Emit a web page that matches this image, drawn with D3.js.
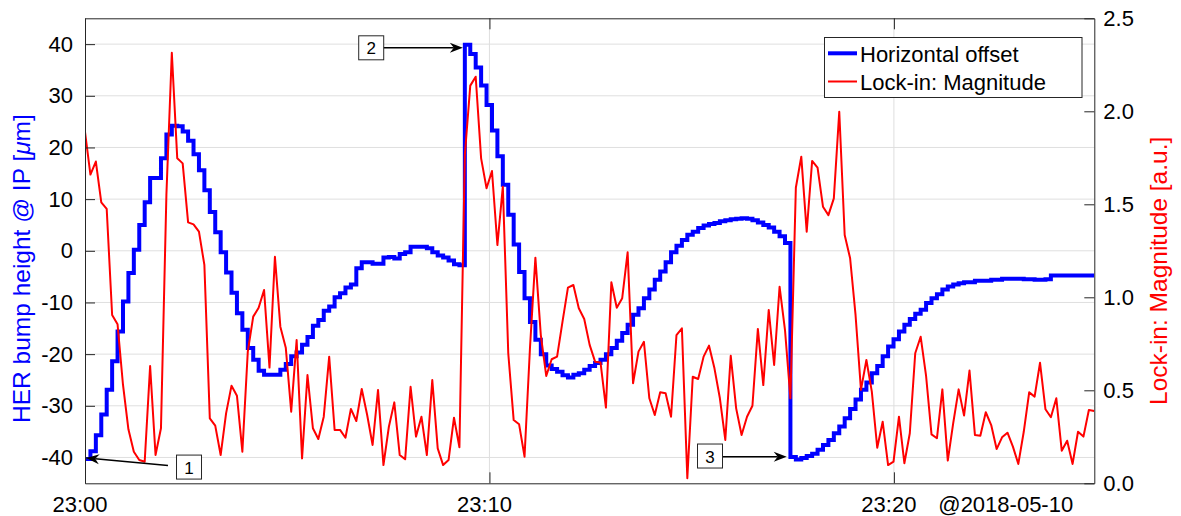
<!DOCTYPE html>
<html>
<head>
<meta charset="utf-8">
<script src="https://cdn.jsdelivr.net/npm/d3@7"></script>
<style>
  body { margin: 0; background: #fff; }
  svg { display: block; font-family: "Liberation Sans", Arial, Helvetica, sans-serif; }
</style>
</head>
<body>
<svg id="chart" width="1181" height="516"></svg>
<script>
// ---- Data -------------------------------------------------------------
// Samples start at 23:00:00 on 2018-05-10, one sample every ~8 s.
const startTime = new Date(2018, 4, 10, 23, 0, 0);
const sampleStepSec = 8.05;

// HER horizontal bump offset at the IP [um] (drawn as stairs, left axis)
const offsetUm = [
  -40.3,-38.8,-35.7,-31.7,-26.9,-21.4,-15.6,-9.8,-4.3,0.2,
  5.0,9.4,14.1,14.1,17.9,22.5,24.2,24.1,23.1,21.3,
  18.7,15.6,11.7,7.5,3.6,-0.3,-4.2,-8.1,-12.1,-15.3,
  -18.8,-21.1,-23.2,-24.0,-24.0,-24.0,-23.0,-21.9,-20.4,-19.7,
  -18.2,-16.7,-14.5,-13.4,-11.6,-10.8,-9.0,-8.2,-7.1,-6.5,
  -3.4,-2.2,-2.2,-2.5,-2.5,-1.3,-1.2,-1.5,-0.6,-0.3,
  0.8,0.8,0.8,0.5,-0.3,-0.9,-1.3,-1.9,-2.6,-2.8,
  39.9,38.1,35.5,32.0,28.2,23.3,18.3,12.8,7.0,1.2,
  -4.1,-9.2,-13.8,-17.2,-20.0,-22.2,-22.9,-23.4,-24.1,-24.5,
  -24.0,-23.7,-23.0,-22.3,-21.7,-21.1,-20.0,-18.8,-17.4,-15.9,
  -14.3,-12.4,-11.1,-9.2,-7.5,-5.6,-4.0,-2.2,-0.3,1.0,
  2.1,3.1,3.7,4.4,4.9,5.2,5.4,5.7,5.9,6.1,
  6.2,6.3,6.2,5.9,5.5,5.0,4.5,3.7,2.8,1.5,
  -39.9,-40.4,-40.1,-39.7,-39.3,-38.5,-37.6,-36.6,-35.3,-34.0,
  -32.4,-30.6,-28.8,-26.9,-25.5,-23.7,-22.3,-20.4,-18.5,-17.1,
  -15.6,-14.3,-13.2,-12.2,-11.4,-10.1,-9.2,-8.4,-7.5,-6.9,
  -6.5,-6.3,-6.1,-6.1,-5.8,-5.8,-5.8,-5.6,-5.6,-5.4,
  -5.4,-5.4,-5.4,-5.5,-5.5,-5.6,-5.6,-5.5,-4.8,-4.8,
  -4.8,-4.8,-4.8,-4.8,-4.8,-4.8,-4.8
];

// Lock-in amplifier magnitude [a.u.] (right axis)
const lockInMag = [
  1.89,1.66,1.73,1.51,1.475,0.905,0.855,0.53,0.29,0.17,
  0.125,0.116,0.63,0.152,0.296,1.55,2.315,1.747,1.72,1.403,
  1.392,1.353,1.174,0.349,0.31,0.152,0.376,0.525,0.471,0.17,
  0.708,0.896,0.944,1.039,0.622,1.218,0.842,0.729,0.385,0.77,
  0.134,0.582,0.296,0.238,0.358,0.681,0.287,0.287,0.245,0.40,
  0.335,0.507,0.367,0.206,0.502,0.098,0.304,0.435,0.152,0.129,
  0.519,0.251,0.358,0.152,0.555,0.188,0.098,0.125,0.353,0.194,
  1.765,2.138,2.186,1.747,1.586,1.679,1.281,1.595,0.699,0.34,
  0.317,0.143,0.726,1.213,0.797,0.577,0.667,0.681,0.869,1.052,
  1.066,0.941,0.883,0.744,0.654,0.65,0.407,1.081,0.944,0.995,
  1.242,0.538,0.708,0.761,0.457,0.367,0.489,0.484,0.358,0.797,
  0.833,0.027,0.573,0.561,0.681,0.74,0.618,0.457,0.233,0.686,
  0.403,0.26,0.358,0.417,0.83,0.528,0.932,0.636,1.057,0.824,
  0.457,1.589,1.756,1.353,1.733,1.697,1.487,1.442,1.532,1.998,
  1.335,1.21,0.905,0.502,0.663,0.493,0.191,0.331,0.098,0.116,
  0.358,0.108,0.269,0.699,0.788,0.577,0.263,0.242,0.505,0.122,
  0.323,0.505,0.364,0.606,0.26,0.256,0.382,0.313,0.184,0.247,
  0.272,0.197,0.104,0.277,0.489,0.466,0.648,0.398,0.355,0.457,
  0.175,0.229,0.104,0.277,0.251,0.394,0.389
];

// Axis ticks
const leftTicks = [-40, -30, -20, -10, 0, 10, 20, 30, 40];
const rightTicks = [0, 0.5, 1.0, 1.5, 2.0, 2.5];
const timeTickLabels = ["23:00", "23:10", "23:20"];
const dateLabel = "@2018-05-10";
const seriesNames = ["Horizontal offset", "Lock-in: Magnitude"];

// Numbered call-outs: seconds after 23:00 and left-axis value for
// arrow tip, arrow tail and label box centre.
const calloutLabels = ["1", "2", "3"];
const calloutTipSec = [1.9, 560.5, 1041.0];
const calloutTipVal = [-40.1, 39.3, -39.85];
const calloutTailSec = [123.1, 442.5, 945.4];
const calloutTailVal = [-41.55, 39.3, -39.85];
const calloutBoxSec = [154.3, 424.6, 927.2];
const calloutBoxVal = [-41.86, 39.29, -39.72];

// ---- Layout -----------------------------------------------------------
const plotL = 85, plotR = 1094.3, plotT = 18.3, plotB = 483.3;
const axisColor = "#262626";
const blue = "#0000ff", red = "#ff0000";
const fontFamily = '"Liberation Sans", Arial, Helvetica, sans-serif';

const svg = d3.select("#chart");

const times = offsetUm.map((_, i) => new Date(startTime.getTime() + i * sampleStepSec * 1000));
const secToDate = s => new Date(startTime.getTime() + s * 1000);

const x = d3.scaleTime().domain(d3.extent(times)).range([plotL, plotR]);
const yL = d3.scaleLinear().domain([-45, 45]).range([plotB, plotT]);
const yR = d3.scaleLinear().domain([0, 2.5]).range([plotB, plotT]);

const parseHM = d3.timeParse("%H:%M");
const tickTimes = timeTickLabels.map(s => {
  const p = parseHM(s);
  return new Date(2018, 4, 10, p.getHours(), p.getMinutes(), 0);
});

// ---- Grid -------------------------------------------------------------
const grid = svg.append("g").attr("stroke", "#dfdfdf").attr("stroke-width", 1);
grid.selectAll("line.h").data(leftTicks).join("line")
  .attr("x1", plotL).attr("x2", plotR)
  .attr("y1", d => yL(d)).attr("y2", d => yL(d));
grid.selectAll("line.v").data(tickTimes.slice(1)).join("line")
  .attr("x1", d => x(d)).attr("x2", d => x(d))
  .attr("y1", plotT).attr("y2", plotB);

// ---- Series -----------------------------------------------------------
svg.append("clipPath").attr("id", "plot-clip")
  .append("rect").attr("x", plotL).attr("y", plotT)
  .attr("width", plotR - plotL).attr("height", plotB - plotT);

const plot = svg.append("g").attr("clip-path", "url(#plot-clip)");

const offsetLine = d3.line()
  .x((d, i) => x(times[i])).y(d => yL(d))
  .curve(d3.curveStepAfter);
plot.append("path").datum(offsetUm)
  .attr("d", offsetLine)
  .attr("fill", "none").attr("stroke", blue).attr("stroke-width", 4)
  .attr("stroke-linejoin", "miter");

const magLine = d3.line()
  .x((d, i) => x(times[i])).y(d => yR(d));
plot.append("path").datum(lockInMag)
  .attr("d", magLine)
  .attr("fill", "none").attr("stroke", red).attr("stroke-width", 2)
  .attr("stroke-linejoin", "round");

// ---- Axes -------------------------------------------------------------
function styleAxis(g) {
  g.select(".domain").attr("stroke", axisColor).attr("stroke-width", 1);
  g.selectAll(".tick line").attr("stroke", axisColor).attr("stroke-width", 1);
  g.selectAll(".tick text").attr("fill", "#000")
    .attr("font-size", 22).attr("font-family", fontFamily);
  g.attr("font-family", fontFamily).attr("font-size", 22);
}

svg.append("g").attr("transform", `translate(${plotL},0)`)
  .call(d3.axisLeft(yL).tickValues(leftTicks).tickSizeInner(-10).tickSizeOuter(0)
    .tickPadding(12).tickFormat(d => String(d)))
  .call(styleAxis);

svg.append("g").attr("transform", `translate(${plotR},0)`)
  .call(d3.axisRight(yR).tickValues(rightTicks).tickSizeInner(-10).tickSizeOuter(0)
    .tickPadding(9).tickFormat(d3.format(".1f")))
  .call(styleAxis);

const bottomAxis = svg.append("g").attr("transform", `translate(0,${plotB})`)
  .call(d3.axisBottom(x).tickValues(tickTimes).tickSizeInner(-11).tickSizeOuter(0)
    .tickPadding(13).tickFormat(d3.timeFormat("%H:%M")))
  .call(styleAxis);
bottomAxis.selectAll(".tick text").attr("dx", -5.5);

svg.append("g").attr("transform", `translate(0,${plotT})`)
  .call(d3.axisTop(x).tickValues(tickTimes).tickSizeInner(-11).tickSizeOuter(0)
    .tickFormat(""))
  .call(styleAxis);

svg.append("text")
  .attr("x", 938.3).attr("y", 512)
  .attr("font-size", 22).attr("font-family", fontFamily).attr("fill", "#000")
  .text(dateLabel);

// Axis titles
const leftTitle = svg.append("text")
  .attr("transform", "translate(30,423) rotate(-90)")
  .attr("font-size", 24.5).attr("font-family", fontFamily).attr("fill", blue);
leftTitle.append("tspan").text("HER bump height @ IP [");
leftTitle.append("tspan").attr("font-style", "italic").text("\u03bc");
leftTitle.append("tspan").text("m]");

svg.append("text")
  .attr("transform", "translate(1167,405) rotate(-90)")
  .attr("font-size", 24.5).attr("font-family", fontFamily).attr("fill", red)
  .text("Lock-in: Magnitude [a.u.]");

// ---- Legend -----------------------------------------------------------
const legend = svg.append("g");
legend.append("rect")
  .attr("x", 824.5).attr("y", 37.5).attr("width", 257.5).attr("height", 60)
  .attr("fill", "#fff").attr("stroke", axisColor).attr("stroke-width", 1);
const legendColors = [blue, red];
const legendWidths = [4, 2];
const legendRowY = [53.3, 81.5];
seriesNames.forEach((name, i) => {
  legend.append("line")
    .attr("x1", 828).attr("x2", 857)
    .attr("y1", legendRowY[i]).attr("y2", legendRowY[i])
    .attr("stroke", legendColors[i]).attr("stroke-width", legendWidths[i]);
  legend.append("text")
    .attr("x", 860).attr("y", legendRowY[i] + 8.3)
    .attr("font-size", 22).attr("font-family", fontFamily).attr("fill", "#000")
    .text(name);
});

// ---- Call-outs --------------------------------------------------------
const callouts = svg.append("g");
calloutLabels.forEach((label, i) => {
  const tx = x(secToDate(calloutTipSec[i])), ty = yL(calloutTipVal[i]);
  const sx = x(secToDate(calloutTailSec[i])), sy = yL(calloutTailVal[i]);
  const dx = tx - sx, dy = ty - sy, len = Math.hypot(dx, dy);
  const ux = dx / len, uy = dy / len, nx = -uy, ny = ux;
  const headLen = 13, headHalf = 5, notch = 4;
  const bx = tx - headLen * ux, by = ty - headLen * uy;
  const mx = tx - (headLen - notch) * ux, my = ty - (headLen - notch) * uy;
  callouts.append("line")
    .attr("x1", sx).attr("y1", sy).attr("x2", mx).attr("y2", my)
    .attr("stroke", "#000").attr("stroke-width", 1.6);
  callouts.append("path")
    .attr("d", `M${tx},${ty}L${bx + headHalf * nx},${by + headHalf * ny}L${mx},${my}L${bx - headHalf * nx},${by - headHalf * ny}Z`)
    .attr("fill", "#000");
  const cx = x(secToDate(calloutBoxSec[i])), cy = yL(calloutBoxVal[i]);
  callouts.append("rect")
    .attr("x", cx - 12.5).attr("y", cy - 12).attr("width", 25).attr("height", 24)
    .attr("fill", "#fff").attr("stroke", axisColor).attr("stroke-width", 1);
  callouts.append("text")
    .attr("x", cx).attr("y", cy + 6.5).attr("text-anchor", "middle")
    .attr("font-size", 17).attr("font-family", fontFamily).attr("fill", "#000")
    .text(label);
});
</script>
</body>
</html>
